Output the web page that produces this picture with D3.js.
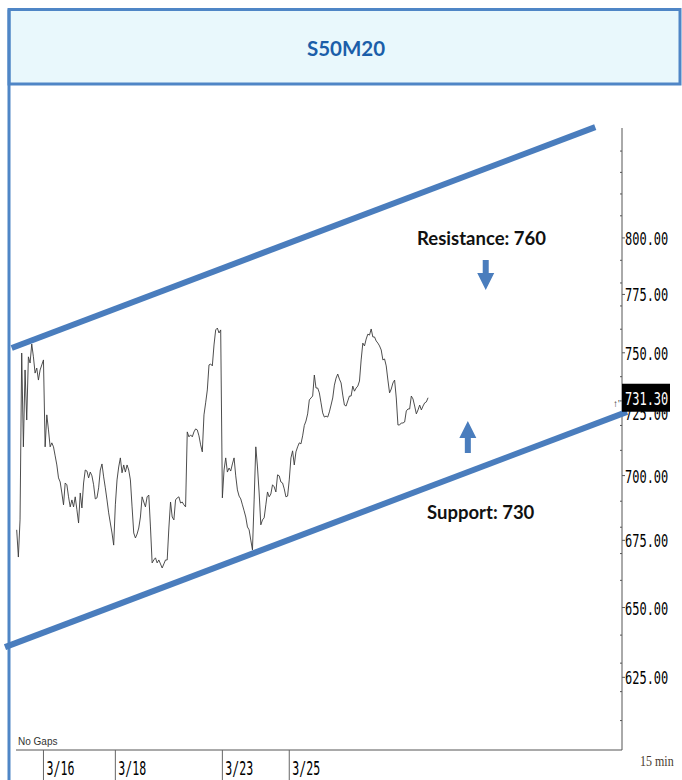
<!DOCTYPE html>
<html>
<head>
<meta charset="utf-8">
<script src="https://cdn.jsdelivr.net/npm/d3@7/dist/d3.min.js"></script>
<style>
body { margin: 0; background: #fff; }
svg { display: block; }
</style>
</head>
<body>
<svg id="chart" width="682" height="780"></svg>
<script>
// 15 min closes, one per bar
const closes = [
  679.0, 668.7, 682.8, 749.9, 711.4, 742.8, 722.2, 748.3, 745.7, 753.7,
  748.3, 741.5, 743.6, 738.6, 742.8, 744.9, 747.0, 711.4, 724.3, 718.2,
  711.4, 713.0, 711.4, 707.8, 704.2, 699.1, 697.5, 693.2, 688.6, 697.1,
  696.4, 691.7, 687.8, 690.5, 687.8, 691.7, 686.7, 681.6, 693.2, 687.4,
  697.1, 702.2, 701.8, 699.1, 701.4, 699.9, 696.4, 690.9, 691.3, 695.2,
  702.2, 704.6, 699.5, 695.2, 690.5, 685.5, 681.6, 677.8, 673.2, 688.6,
  698.3, 703.4, 707.0, 701.1, 704.2, 701.4, 704.2, 702.2, 698.3, 687.8,
  677.8, 675.9, 677.4, 679.7, 683.9, 691.7, 689.7, 687.8, 691.7, 692.4,
  680.1, 666.5, 667.6, 668.4, 666.5, 667.6, 666.1, 664.6, 666.1, 667.6,
  667.6, 679.7, 689.7, 683.9, 682.8, 690.5, 691.3, 691.7, 689.3, 689.7,
  688.6, 687.8, 717.4, 715.4, 716.2, 715.4, 717.4, 718.6, 718.2, 715.8,
  712.2, 709.4, 724.3, 729.2, 734.5, 744.9, 745.3, 744.5, 753.3, 759.7,
  760.5, 758.4, 759.7, 691.3, 702.2, 707.0, 701.4, 703.0, 701.8, 704.6,
  707.0, 699.9, 694.4, 692.0, 690.9, 688.6, 686.3, 683.9, 680.1, 679.0,
  675.1, 671.4, 690.5, 711.4, 703.4, 693.2, 680.9, 682.8, 683.6, 688.6,
  693.6, 691.7, 692.8, 696.4, 695.6, 693.6, 700.3, 699.9, 697.5, 697.1,
  694.8, 691.7, 692.0, 698.3, 707.0, 709.8, 704.2, 709.4, 711.4, 713.0,
  712.6, 715.8, 720.0, 721.8, 724.7, 730.4, 731.2, 732.0, 740.7, 735.3,
  735.3, 733.3, 729.2, 725.1, 723.4, 723.8, 723.4, 725.5, 728.3, 731.2,
  736.5, 739.4, 741.1, 739.0, 737.4, 732.4, 728.3, 727.9, 730.0, 732.0,
  732.0, 736.1, 734.0, 735.3, 736.1, 738.2, 747.0, 754.1, 752.9, 755.8,
  757.9, 757.5, 760.1, 756.7, 756.7, 755.0, 754.1, 752.9, 751.2, 747.0,
  747.4, 744.5, 738.6, 733.3, 734.9, 737.4, 738.6, 731.2, 720.2, 720.2,
  721.0, 721.0, 721.4, 725.9, 726.7, 726.7, 732.0, 730.8, 727.9, 724.7,
  726.3, 728.3, 726.3, 727.9, 729.2, 729.6, 731.3
];

const dateTickBars = [16, 59, 123, 163];
const dateTickLabels = ["3/16", "3/18", "3/23", "3/25"];
const priceTicks = [625, 650, 675, 700, 725, 750, 775, 800];
const minorPriceTicks = [610, 620, 630, 640, 660, 670, 680, 690, 710, 720, 730, 740,
                         760, 770, 780, 790, 810, 820, 830, 840];
const lastPrice = 731.30;

// channel lines, as (bar, price) end points
const resistanceLine = [{bar: -3, price: 752.0}, {bar: 346, price: 851.4}];
const supportLine = [{bar: -7, price: 635.7}, {bar: 365, price: 725.5}];

// notes on the chart
const notes = [
  {text: "Resistance: 760", bar: 278, price: 799.5, arrowBar: 280.5, from: 790.1, to: 776.9},
  {text: "Support: 730", bar: 277.5, price: 685.5, arrowBar: 269.8, from: 708.9, to: 721.8}
];

const svg = d3.select("#chart");
const blue = "#4f86c6";
const lineBlue = "#4a7dbd";
const monoFont = "'DejaVu Sans Mono', 'Liberation Mono', monospace";

let plot_left = 16, plot_right = 622, plot_top = 128, plot_bottom = 750;

var x = d3.scaleLinear()
    .domain([0, 362])
    .range([16.7, plot_right]);

var y = d3.scaleLog()
    .domain([600, 850])
    .range([plot_bottom, 130]);

// title band
svg.append("rect")
    .attr("x", 9).attr("y", 9.5)
    .attr("width", 671).attr("height", 74.5)
    .attr("fill", "#e9f8fc")
    .attr("stroke", blue).attr("stroke-width", 3);

svg.append("line")
    .attr("x1", 9).attr("x2", 9)
    .attr("y1", 9.5).attr("y2", 780)
    .attr("stroke", blue).attr("stroke-width", 3);

svg.append("text")
    .attr("x", 346).attr("y", 56)
    .attr("text-anchor", "middle")
    .attr("font-family", "Lato, 'Open Sans', sans-serif")
    .attr("font-weight", "bold")
    .attr("font-size", 20.5)
    .attr("fill", "#1b5ea9")
    .text("S50M20");

// frame: right axis + bottom line
svg.append("path")
    .attr("d", `M${plot_left},${plot_bottom}H${plot_right}V${plot_top}`)
    .attr("fill", "none")
    .attr("stroke", "#555")
    .attr("stroke-width", 1);

// y ticks
svg.append("g").selectAll("line")
    .data(minorPriceTicks)
    .enter().append("line")
    .attr("x1", plot_right - 2).attr("x2", plot_right)
    .attr("y1", d => y(d)).attr("y2", d => y(d))
    .attr("stroke", "#555");

svg.append("g").selectAll("line")
    .data(priceTicks)
    .enter().append("line")
    .attr("x1", plot_right).attr("x2", plot_right + 3)
    .attr("y1", d => y(d)).attr("y2", d => y(d))
    .attr("stroke", "#555");

// tall narrow labels: small mono font stretched upward
svg.append("g").selectAll("text")
    .data(priceTicks)
    .enter().append("text")
    .attr("transform", d => `translate(${plot_right + 3},${y(d) + 7}) scale(1,1.5)`)
    .attr("font-family", monoFont)
    .attr("font-size", 12)
    .attr("fill", "#000")
    .text(d => d3.format(".2f")(d));

// x ticks
svg.append("g").selectAll("line")
    .data(dateTickBars)
    .enter().append("line")
    .attr("x1", d => x(d)).attr("x2", d => x(d))
    .attr("y1", plot_bottom).attr("y2", 780)
    .attr("stroke", "#666");

svg.append("g").selectAll("text")
    .data(dateTickBars)
    .enter().append("text")
    .attr("transform", d => `translate(${x(d) + 3},775) scale(1,1.75)`)
    .attr("font-family", monoFont)
    .attr("font-size", 11.6)
    .attr("fill", "#000")
    .text((d, i) => dateTickLabels[i]);

svg.append("text")
    .attr("x", 18).attr("y", 745)
    .attr("font-family", "'Liberation Sans', sans-serif")
    .attr("font-size", 10)
    .attr("fill", "#333")
    .text("No Gaps");

svg.append("text")
    .attr("transform", "translate(640,766) scale(1,1.3)")
    .attr("font-family", "'Liberation Serif', serif")
    .attr("font-size", 12)
    .attr("fill", "#4a3a2e")
    .text("15 min");

// price line
var price_line = d3.line()
    .x((d, i) => x(i))
    .y(d => y(d));

svg.append("path")
    .datum(closes)
    .attr("d", price_line)
    .attr("fill", "none")
    .attr("stroke", "#3a3a3a")
    .attr("stroke-width", 0.9);

// channel
var trend_line = d3.line()
    .x(d => x(d.bar))
    .y(d => y(d.price));

[resistanceLine, supportLine].forEach(function(pts) {
    svg.append("path")
        .datum(pts)
        .attr("d", trend_line)
        .attr("fill", "none")
        .attr("stroke", lineBlue)
        .attr("stroke-width", 6);
});

// notes + arrows
notes.forEach(function(n) {
    svg.append("text")
        .attr("x", x(n.bar))
        .attr("y", y(n.price) + 6)
        .attr("text-anchor", "middle")
        .attr("font-family", "Lato, 'Open Sans', sans-serif")
        .attr("font-weight", "bold")
        .attr("font-size", 18.5)
        .attr("fill", "#111")
        .text(n.text);

    let ax = x(n.arrowBar);
    let y0 = y(n.from), y1 = y(n.to);
    let dir = y1 > y0 ? 1 : -1;
    let head = 17;
    let yh = y1 - dir * head;
    svg.append("path")
        .attr("d", `M${ax - 3},${y0}L${ax + 3},${y0}L${ax + 3},${yh}L${ax + 8.5},${yh}L${ax},${y1}L${ax - 8.5},${yh}L${ax - 3},${yh}Z`)
        .attr("fill", lineBlue);
});

// last price marker
let last_y = y(lastPrice);
svg.append("rect")
    .attr("x", plot_right).attr("y", last_y - 14)
    .attr("width", 48).attr("height", 28)
    .attr("fill", "#000");
svg.append("text")
    .attr("transform", `translate(${plot_right + 3},${last_y + 7}) scale(1,1.5)`)
    .attr("font-family", monoFont)
    .attr("font-size", 12)
    .attr("fill", "#fff")
    .text(d3.format(".2f")(lastPrice));
svg.append("text")
    .attr("x", plot_right - 9)
    .attr("y", last_y + 9)
    .attr("font-family", "'Liberation Serif', serif")
    .attr("font-size", 10)
    .attr("fill", "#333")
    .text("↑'");
</script>
</body>
</html>
